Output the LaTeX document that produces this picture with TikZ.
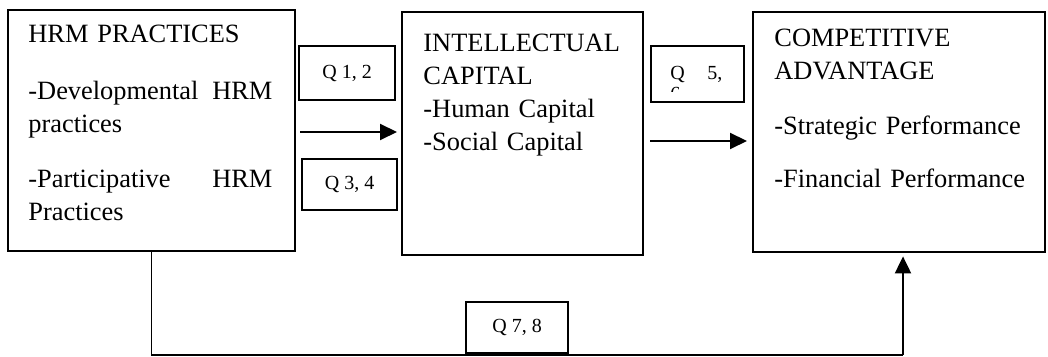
\documentclass[tikz,border=0pt]{standalone}
\usepackage{fontspec}
\setmainfont{Liberation Serif}
\usetikzlibrary{positioning,arrows.meta}
\tikzset{
  bx/.style={rectangle, draw=black, line width=1.2pt, inner sep=0pt, anchor=north west},
  qb/.style={rectangle, draw=black, line width=1.2pt, inner sep=0pt, anchor=north west, text centered, font=\fontsize{10}{10.25}\selectfont},
  tx/.style={anchor=base west, inner sep=0pt, align=left, font=\fontsize{13.2}{16.5}\selectfont},
  ln/.style={line width=1pt, >={Triangle[length=8.5pt,width=8pt]}},
}

\begin{document}
\begin{tikzpicture}[x=0.5pt, y=-0.5pt]
	\useasboundingbox (0,0) rectangle (1048,357);
	% main boxes
	\node[bx, minimum width=143.5pt, minimum height=120.5pt] (hrm) at (7,9) {};
	\node[bx, minimum width=120.5pt, minimum height=121.5pt] (ic) at (401,11) {};
	\node[bx, minimum width=146pt, minimum height=120pt] (ca) at (752,11) {};
	\node[tx, text width=122pt] (hrmtxt) at (28,43) {HRM PRACTICES\\[12pt]-Developmental\hfill HRM\\practices\\[11pt]-Participative\hfill HRM\\Practices};
	\node[tx, text width=110pt] (ictxt) at (423,52) {INTELLECTUAL\\CAPITAL\\-Human Capital\\-Social Capital};
	\node[tx, text width=130pt] (catxt) at (774,47) {COMPETITIVE\\ADVANTAGE\\[11pt]-Strategic Performance\\[10pt]-Financial Performance};
	% question boxes
	\node[qb, minimum width=48pt, minimum height=27pt] (q12) at (298,45) {Q 1, 2};
	\node[qb, minimum width=47.5pt, minimum height=25.5pt] (q34) at (301,158) {Q 3, 4};
	\node[qb, minimum width=46.5pt, minimum height=28pt] (q56) at (650,45) {};
	\begin{scope}
		\clip (q56.north west) rectangle (q56.east |- 0,92);
		\node[anchor=base west, inner sep=0pt, text width=26pt, align=left, font=\fontsize{10}{10.25}\selectfont] (q56txt) at (670,80) {Q\hfill 5,\\6};
	\end{scope}
	\node[qb, minimum width=51pt, minimum height=25.5pt] (q78) at (465,301) {Q 7, 8};
	%
	\draw[ln,->,shorten <=2pt,shorten >=2pt] (hrm.east |- 0,132) -- (ic.west |- 0,132);
	\draw[ln,->,shorten <=3pt,shorten >=2.5pt] (ic.east |- 0,141) -- (ca.west |- 0,141);
	\coordinate (turn) at (903,355);
	\draw[line width=0.6pt] (hrm.south) -- (hrm.south |- turn) -- (turn);
	\draw[ln,->,shorten >=1.5pt] (turn) -- (turn |- ca.south);
\end{tikzpicture}
\end{document}
